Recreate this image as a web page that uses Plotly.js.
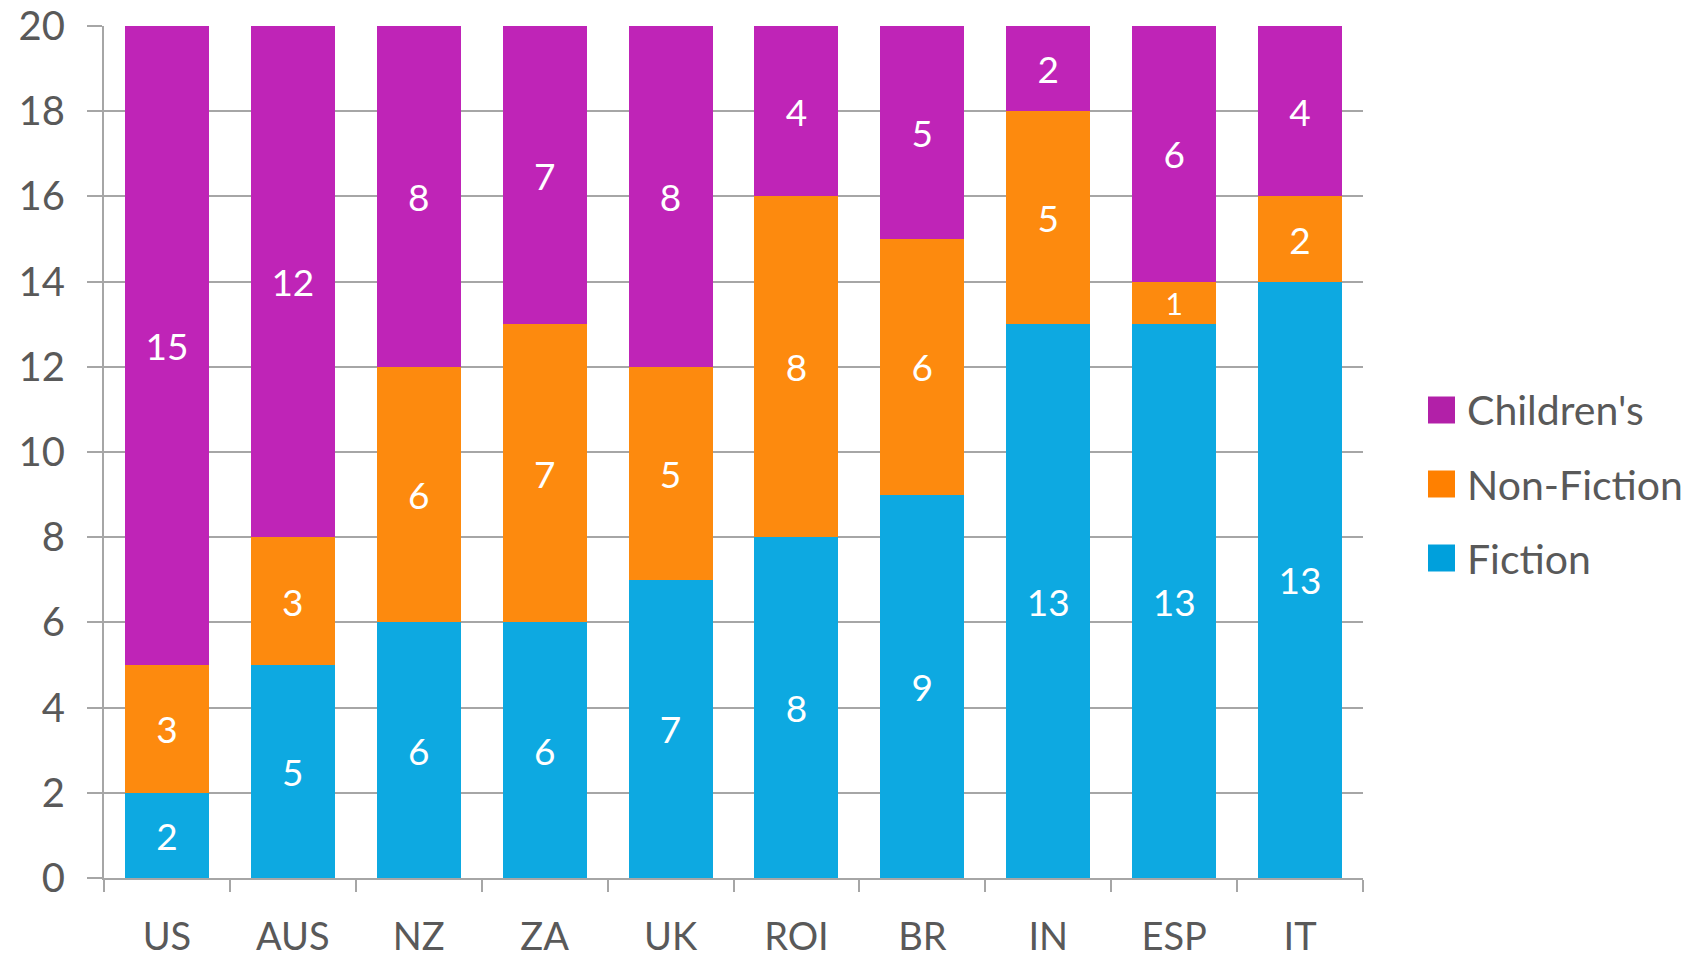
<!DOCTYPE html>
<html>
<head>
<meta charset="utf-8">
<script src="https://cdn.plot.ly/plotly-3.0.1.min.js"></script>
<style>html,body{margin:0;padding:0;background:#fff;}#chart{width:1700px;height:961px;}</style>
</head>
<body>
<div id="chart"></div>
<script>
const categories = ["US", "AUS", "NZ", "ZA", "UK", "ROI", "BR", "IN", "ESP", "IT"];
const fiction = [2, 5, 6, 6, 7, 8, 9, 13, 13, 14];
const fictionLabels = ["2", "5", "6", "6", "7", "8", "9", "13", "13", "13"];
const nonFiction = [3, 3, 6, 7, 5, 8, 6, 5, 1, 2];
const childrens = [15, 12, 8, 7, 8, 4, 5, 2, 6, 4];
const yTicks = [0, 2, 4, 6, 8, 10, 12, 14, 16, 18, 20];
const legendNames = ["Children's", "Non-Fiction", "Fiction"];
const legendColors = ["#B220A8", "#FF8000", "#00A0DC"];

const fontFam = "Lato, 'Open Sans', sans-serif";
const grey = "#595959";
const lineGrey = "#A6A6A6";

function barTrace(name, vals, labels, color) {
  return {
    type: "bar", name: name, x: categories, y: vals,
    text: labels, textposition: "inside", insidetextanchor: "middle",
    textangle: 0,
    textfont: {color: "#ffffff", size: 37, family: fontFam},
    marker: {color: color, line: {width: 0}},
    showlegend: false, hoverinfo: "skip"
  };
}

const data = [
  barTrace("Fiction", fiction, fictionLabels, "#0DA9E1"),
  barTrace("Non-Fiction", nonFiction, nonFiction.map(String), "#FD8A0E"),
  barTrace("Children's", childrens, childrens.map(String), "#BF24B7")
];

// legend drawn as shapes + text (paper coords; plot area is 104..1363 x, 26..878 y)
const plotL = 104, plotW = 1259, plotB = 878, plotH = 852;
const px2x = p => (p - plotL) / plotW;
const px2y = p => (plotB - p) / plotH;
const rowY = [410, 484, 558];
const shapes = [], annotations = [];
legendNames.forEach((n, i) => {
  shapes.push({type: "rect", xref: "paper", yref: "paper",
    x0: px2x(1428), x1: px2x(1455), y0: px2y(rowY[i] + 13.5), y1: px2y(rowY[i] - 13.5),
    fillcolor: legendColors[i], line: {width: 0}});
  annotations.push({xref: "paper", yref: "paper", x: px2x(1465), y: px2y(rowY[i]),
    xanchor: "left", yanchor: "middle", text: n, showarrow: false,
    font: {size: 41, color: grey, family: fontFam}});
});

const layout = {
  width: 1700, height: 961,
  margin: {l: 104, r: 337, t: 26, b: 83, pad: 0},
  paper_bgcolor: "#ffffff", plot_bgcolor: "#ffffff",
  barmode: "stack", bargap: 0.333,
  font: {family: fontFam, color: grey, size: 36},
  showlegend: false,
  xaxis: {
    type: "category", showgrid: false, showline: true, linecolor: lineGrey, linewidth: 2,
    ticks: "outside", tickson: "boundaries", ticklen: 12, tickwidth: 2, tickcolor: lineGrey,
    tickfont: {size: 38, color: grey, family: fontFam}, ticklabelstandoff: 24,
    zeroline: false
  },
  yaxis: {
    range: [0, 20], tickvals: yTicks, showgrid: true, gridcolor: lineGrey, gridwidth: 2,
    showline: true, linecolor: lineGrey, linewidth: 2,
    ticks: "outside", ticklen: 15, tickwidth: 2, tickcolor: lineGrey,
    tickfont: {size: 40, color: grey, family: fontFam}, ticklabelstandoff: 14,
    zeroline: false
  },
  shapes: shapes,
  annotations: annotations
};

Plotly.newPlot("chart", data, layout, {displayModeBar: false, staticPlot: true});
</script>
</body>
</html>
